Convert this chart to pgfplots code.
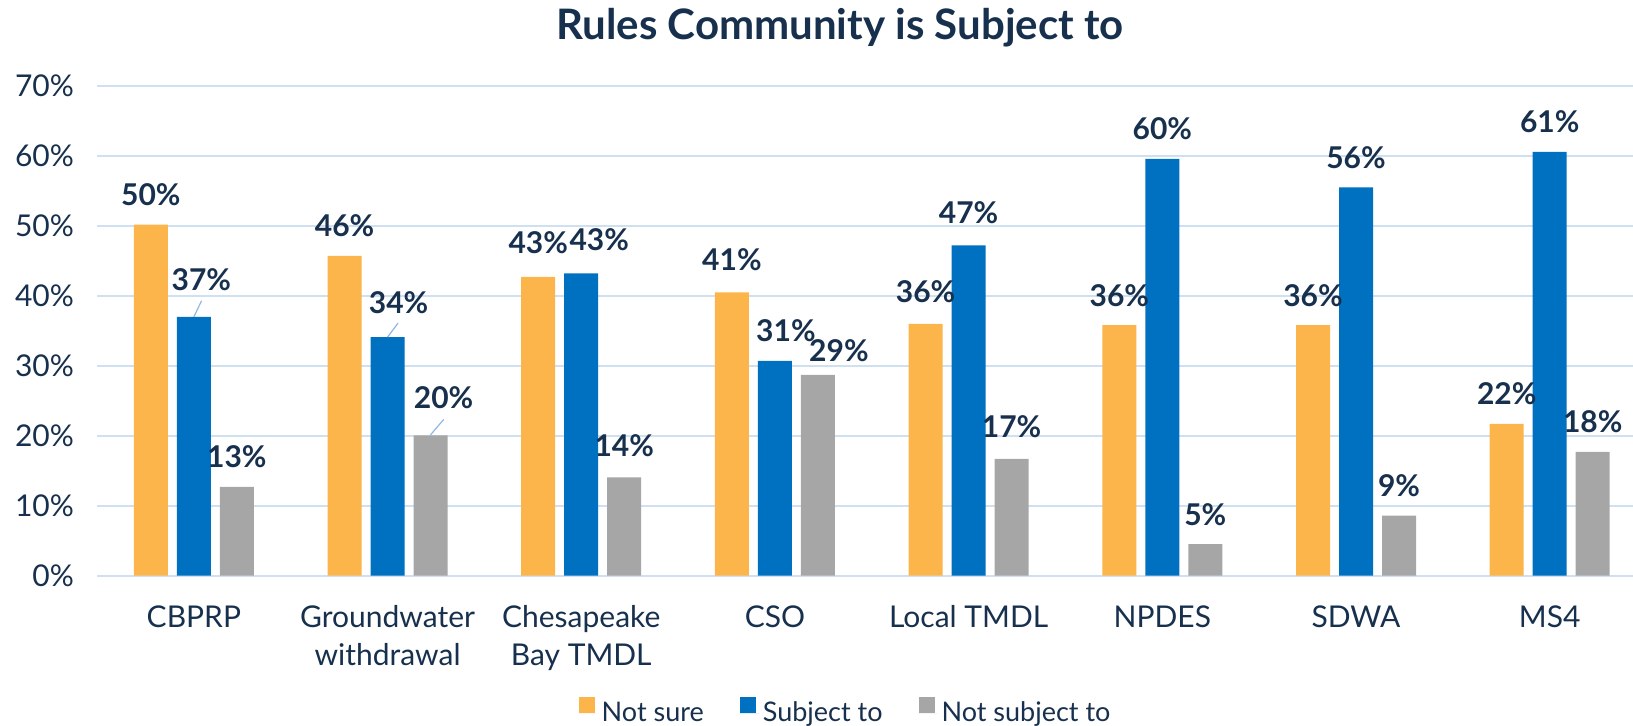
\documentclass[border=0pt]{standalone}
\usepackage{fontspec}
\setmainfont{Lato}
\usepackage{pgfplots}
\pgfplotsset{compat=1.18}
\usepackage{pgfplotstable}
\definecolor{cOr}{HTML}{FBB54A}
\definecolor{cBl}{HTML}{0070C0}
\definecolor{cGr}{HTML}{A6A6A6}
\definecolor{navy}{HTML}{17304D}
\definecolor{gridc}{HTML}{CFE0F1}
\definecolor{leader}{HTML}{8FB8E0}

\pgfplotstableread{
x y lab dx dy
0 50.2 50 0 0
1 45.7 46 0 0
2 42.7 43 0 2
3 40.5 41 0 1.5
4 36.0 36 0 1.2
5 35.8 36 0 0
6 35.8 36 0 0
7 21.7 22 0 0
}\tNS
\pgfplotstableread{
x y lab dx dy
0 37.0 37 3.75 3.5
1 34.1 34 5.5 2
2 43.2 43 9 2
3 30.7 31 5.5 0
4 47.2 47 0 1.2
5 59.6 60 0 0
6 55.5 56 0 0
7 60.6 61 0 0
}\tST
\pgfplotstableread{
x y lab dx dy
0 12.7 13 0 0
1 20.05 20 6.5 3.75
2 14.05 14 0 1
3 28.7 29 10.5 -3
4 16.7 17 0 1.2
5 4.5 5 0 0
6 8.6 9 0 0
7 17.7 18 0 0
}\tNT

\begin{document}
\begin{tikzpicture}
\useasboundingbox (0,0) rectangle (816.5pt,363pt);
\begin{axis}[
 at={(48.5pt,75.15pt)}, anchor=south west,
 scale only axis, width=768pt, height=244.85pt,
 xmin=-0.5, xmax=7.43, ymin=0, ymax=70,
 ybar, bar width=17pt,
 axis line style={draw=none},
 major tick length=0pt,
 ymajorgrids, grid style={gridc, line width=1pt},
 ytick={0,10,...,70},
 yticklabels={0\%,10\%,20\%,30\%,40\%,50\%,60\%,70\%},
 xtick={0,...,7},
 xticklabels={CBPRP,{Groundwater\\withdrawal},{Chesapeake\\Bay TMDL},CSO,Local TMDL,NPDES,SDWA,MS4},
 xticklabel style={align=center, font=\fontsize{15}{18.75}\selectfont, text=navy, yshift=-11.5pt},
 yticklabel style={font=\fontsize{15}{18}\selectfont, text=navy, xshift=-8pt},
 point meta=explicit symbolic,
 nodes near coords={\pgfplotspointmeta\%},
 visualization depends on={\thisrow{dx} \as \dx},
 visualization depends on={\thisrow{dy} \as \dy},
 every node near coord/.append style={font=\bfseries\fontsize{15}{18}\selectfont, text=navy, anchor=center, xshift=\dx pt, yshift=15pt+\dy pt},
 legend columns=3,
 legend style={at={(0.488,-0.2804)}, anchor=center, draw=none, fill=none,
   font=\fontsize{13.5}{16}\selectfont, text=navy,
   /tikz/every even column/.append style={column sep=16pt}},
 legend image code/.code={\path (0pt,0pt) -- (9.5pt,0pt); \fill[#1] (0pt,0pt) rectangle (8pt,8pt);},
]
\addplot[fill=cOr, draw=none, bar shift=-21.5pt] table[x=x,y=y,meta=lab]{\tNS};
\addplot[fill=cBl, draw=none, bar shift=0pt] table[x=x,y=y,meta=lab]{\tST};
\addplot[fill=cGr, draw=none, bar shift=21.5pt] table[x=x,y=y,meta=lab]{\tNT};
\legend{Not sure, Subject to, Not subject to}
\draw[leader, line width=0.6pt] (axis cs:0.04,39.3) -- (axis cs:0,37.0);
\draw[leader, line width=0.6pt] (axis cs:1.054,36.1) -- (axis cs:1.0,34.1);
\draw[leader, line width=0.6pt] (axis cs:1.29,22.34) -- (axis cs:1.221,20.1);
\end{axis}
\node[font=\bfseries\fontsize{21}{25}\selectfont, text=navy, anchor=base] at (420pt,343.2pt) {Rules Community is Subject to};
\end{tikzpicture}
\end{document}
